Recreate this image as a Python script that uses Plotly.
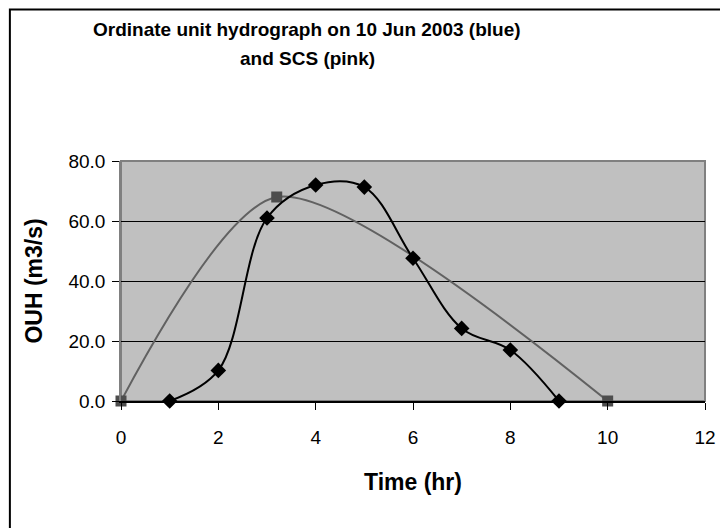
import plotly.graph_objects as go

# Ordinate unit hydrograph (10 Jun 2003)
ouh_time = [1, 2, 3, 4, 5, 6, 7, 8, 9]
ouh_flow = [0.0, 10.2, 61.0, 72.0, 71.3, 47.6, 24.2, 17.0, 0.0]

# SCS synthetic hydrograph
scs_time = [0, 3.2, 10]
scs_flow = [0.0, 68.0, 0.0]

x_ticks = [0, 2, 4, 6, 8, 10, 12]
y_ticks = [0, 20, 40, 60, 80]

FONT = "Liberation Sans, Arial, sans-serif"

# page has an 8px body margin, so the figure sits at (8, 8)
L, T, W, H = 113, 153, 586, 240

fig = go.Figure()
fig.add_trace(go.Scatter(
    x=scs_time, y=scs_flow, mode="lines+markers", name="SCS",
    line=dict(color="#616161", width=2, shape="spline", smoothing=0.75),
    marker=dict(symbol="square", size=11, color="#4d4d4d"),
    cliponaxis=False,
))
fig.add_trace(go.Scatter(
    x=ouh_time, y=ouh_flow, mode="lines+markers", name="OUH",
    line=dict(color="black", width=2, shape="spline", smoothing=1),
    marker=dict(symbol="diamond", size=12, color="black"),
    cliponaxis=False,
))

# plot area border (grey) and outer chart border
fig.add_shape(type="rect", xref="x domain", yref="y domain", x0=0, x1=1, y0=0, y1=1,
              line=dict(color="#808080", width=2), layer="below")
fig.add_shape(type="rect", xref="paper", yref="paper",
              x0=(1.5 - L) / W, x1=(760 - L) / W,
              y0=(T + H - 560) / H, y1=(T + H - 1.5) / H,
              line=dict(color="black", width=2), layer="below")

title_lines = ["Ordinate unit hydrograph on 10 Jun 2003 (blue)", "and SCS (pink)"]
title_y = [21, 51]
for txt, ypx in zip(title_lines, title_y):
    fig.add_annotation(
        text="<b>" + txt + "</b>", xref="paper", yref="paper",
        x=(300 - L) / W, y=(T + H - ypx) / H, xanchor="center", yanchor="middle",
        showarrow=False, font=dict(family=FONT, size=19, color="black"),
    )

fig.update_layout(
    width=720, height=520,
    margin=dict(l=L, r=720 - L - W, t=T, b=520 - T - H),
    paper_bgcolor="white",
    plot_bgcolor="#c0c0c0",
    showlegend=False,
    font=dict(family=FONT, size=19, color="black"),
    xaxis=dict(
        range=[0, 12], tickvals=x_ticks, showgrid=False, zeroline=False,
        showline=True, linecolor="black", linewidth=1.5,
        ticks="outside", ticklen=7, tickcolor="black", ticklabelstandoff=11,
        title=dict(text="<b>Time (hr)</b>", standoff=27),
    ),
    yaxis=dict(
        range=[0, 80], tickvals=y_ticks, tickformat=".1f",
        showgrid=True, gridcolor="black", gridwidth=1, zeroline=False,
        showline=True, linecolor="#808080", linewidth=1.5,
        ticks="outside", ticklen=7, tickcolor="black", ticklabelstandoff=3,
        title=dict(text="<b>OUH (m3/s)</b>", standoff=19),
    ),
)

fig.write_html("out.html")
